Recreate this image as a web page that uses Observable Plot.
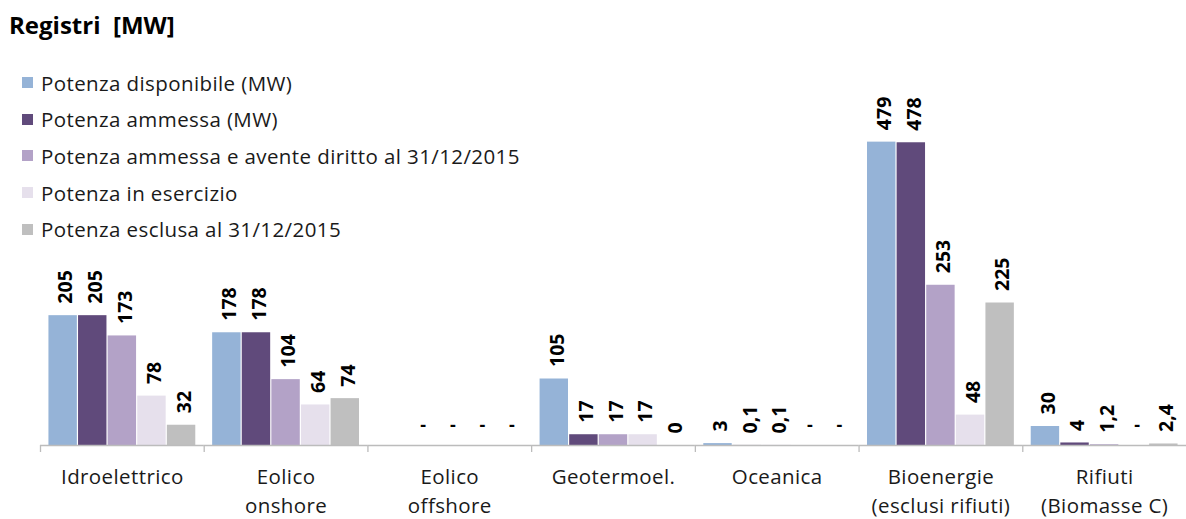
<!DOCTYPE html>
<html><head><meta charset="utf-8">
<script src="https://cdn.jsdelivr.net/npm/d3@7"></script>
<script src="https://cdn.jsdelivr.net/npm/@observablehq/plot@0.6"></script>
<style>
body{margin:0;background:#fff;font-family:"Open Sans", sans-serif;}
#wrap{position:relative;width:1186px;height:519px;overflow:hidden}
#title{position:absolute;left:9px;top:8px;font-weight:bold;font-size:24px;white-space:pre;color:#000;z-index:2;line-height:normal}
#legend{position:absolute;left:22px;top:64.5px;z-index:2}
.item{display:flex;align-items:center;height:36.6px;font-size:20.5px;letter-spacing:0.4px;color:#1a1a1a;white-space:nowrap}
.sw{width:11px;height:11px;margin-right:8px;flex:none}
#chart{position:absolute;left:0;top:0}
#chart [aria-label="fx-axis tick label"] text{letter-spacing:0.4px}
</style></head><body><div id="wrap"><div id="chart"></div><div id="title">Registri  [MW]</div><div id="legend"></div></div>
<script>
const categories = ["Idroelettrico", "Eolico\nonshore", "Eolico\noffshore", "Geotermoel.", "Oceanica", "Bioenergie\n(esclusi rifiuti)", "Rifiuti\n(Biomasse C)"];
const seriesNames = ["Potenza disponibile (MW)", "Potenza ammessa (MW)", "Potenza ammessa e avente diritto al 31/12/2015", "Potenza in esercizio", "Potenza esclusa al 31/12/2015"];
const seriesColors = ["#95b3d7", "#604a7b", "#b3a2c7", "#e6e0ec", "#bfbfbf"];
// null = shown as "-", NaN = empty cell (no label)
const potenzaDisponibile   = [205, 178, NaN, 105, 3,    479, 30];
const potenzaAmmessa       = [205, 178, null, 17, 0.1,  478, 4];
const potenzaAventeDiritto = [173, 104, null, 17, 0.1,  253, 1.2];
const potenzaInEsercizio   = [78,  64,  null, 17, null, 48,  null];
const potenzaEsclusa       = [32,  74,  null, 0,  null, 225, 2.4];
const seriesValues = [potenzaDisponibile, potenzaAmmessa, potenzaAventeDiritto, potenzaInEsercizio, potenzaEsclusa];

const fmt = v => Number.isInteger(v) ? String(v) : v.toFixed(1).replace(".", ",");
const rows = [];
categories.forEach((cat, i) => seriesNames.forEach((s, j) => {
  rows.push({cat, series: s, value: seriesValues[j][i]});
}));
const bars = rows.filter(d => d.value != null && !Number.isNaN(d.value));
const dashes = rows.filter(d => d.value === null);

const W = 1186, H = 519, mL = 40, mR = 0, mT = 65, mB = 74;
const yMax = 600;
const pi = 0.04, po = 0.285;
const groupW = (W - mL - mR) / categories.length;
const step = groupW / (seriesNames.length - pi + 2 * po);
const bw = step * (1 - pi);
const edgeDx = -(po * step + bw / 2);
const tickMW = -7 * yMax / (H - mT - mB);
const font = "'Open Sans', sans-serif";

const chart = Plot.plot({
  width: W, height: H, marginLeft: mL, marginRight: mR, marginTop: mT, marginBottom: mB,
  style: {fontFamily: font, background: "transparent", overflow: "visible", color: "#1a1a1a"},
  fx: {domain: categories, padding: 0, round: false, label: null},
  x: {domain: seriesNames, paddingInner: pi, paddingOuter: po, round: false, axis: null},
  y: {domain: [0, yMax], axis: null},
  color: {domain: seriesNames, range: seriesColors},
  marks: [
    Plot.barY(bars, {fx: "cat", x: "series", y: "value", fill: "series"}),
    Plot.ruleY([0], {stroke: "#bcbcbc", strokeWidth: 1.3}),
    Plot.ruleX(categories, {fx: d => d, x: () => seriesNames[0], y1: 0, y2: tickMW, dx: edgeDx, stroke: "#bcbcbc", strokeWidth: 1.3}),
    Plot.text(bars, {fx: "cat", x: "series", y: "value", text: d => fmt(d.value), rotate: -90, textAnchor: "start", lineAnchor: "middle", dy: -12, dx: 3, fontWeight: "bold", fontSize: 19.5, fill: "#000"}),
    Plot.text(dashes, {fx: "cat", x: "series", y: () => 0, text: () => "-", dy: -20, dx: 3, fontWeight: "bold", fontSize: 18, fill: "#000"}),
    Plot.axisFx({anchor: "bottom", tickSize: 0, tickPadding: 19, fontSize: 20.5, lineHeight: 1.37, lineAnchor: "top", label: null, fill: "#1a1a1a"})
  ]
});
document.getElementById("chart").appendChild(chart);

const legend = document.getElementById("legend");
seriesNames.forEach((s, j) => {
  const it = document.createElement("div");
  it.className = "item";
  const sw = document.createElement("span");
  sw.className = "sw"; sw.style.background = seriesColors[j];
  it.appendChild(sw);
  it.appendChild(document.createTextNode(s));
  legend.appendChild(it);
});
</script></body></html>
